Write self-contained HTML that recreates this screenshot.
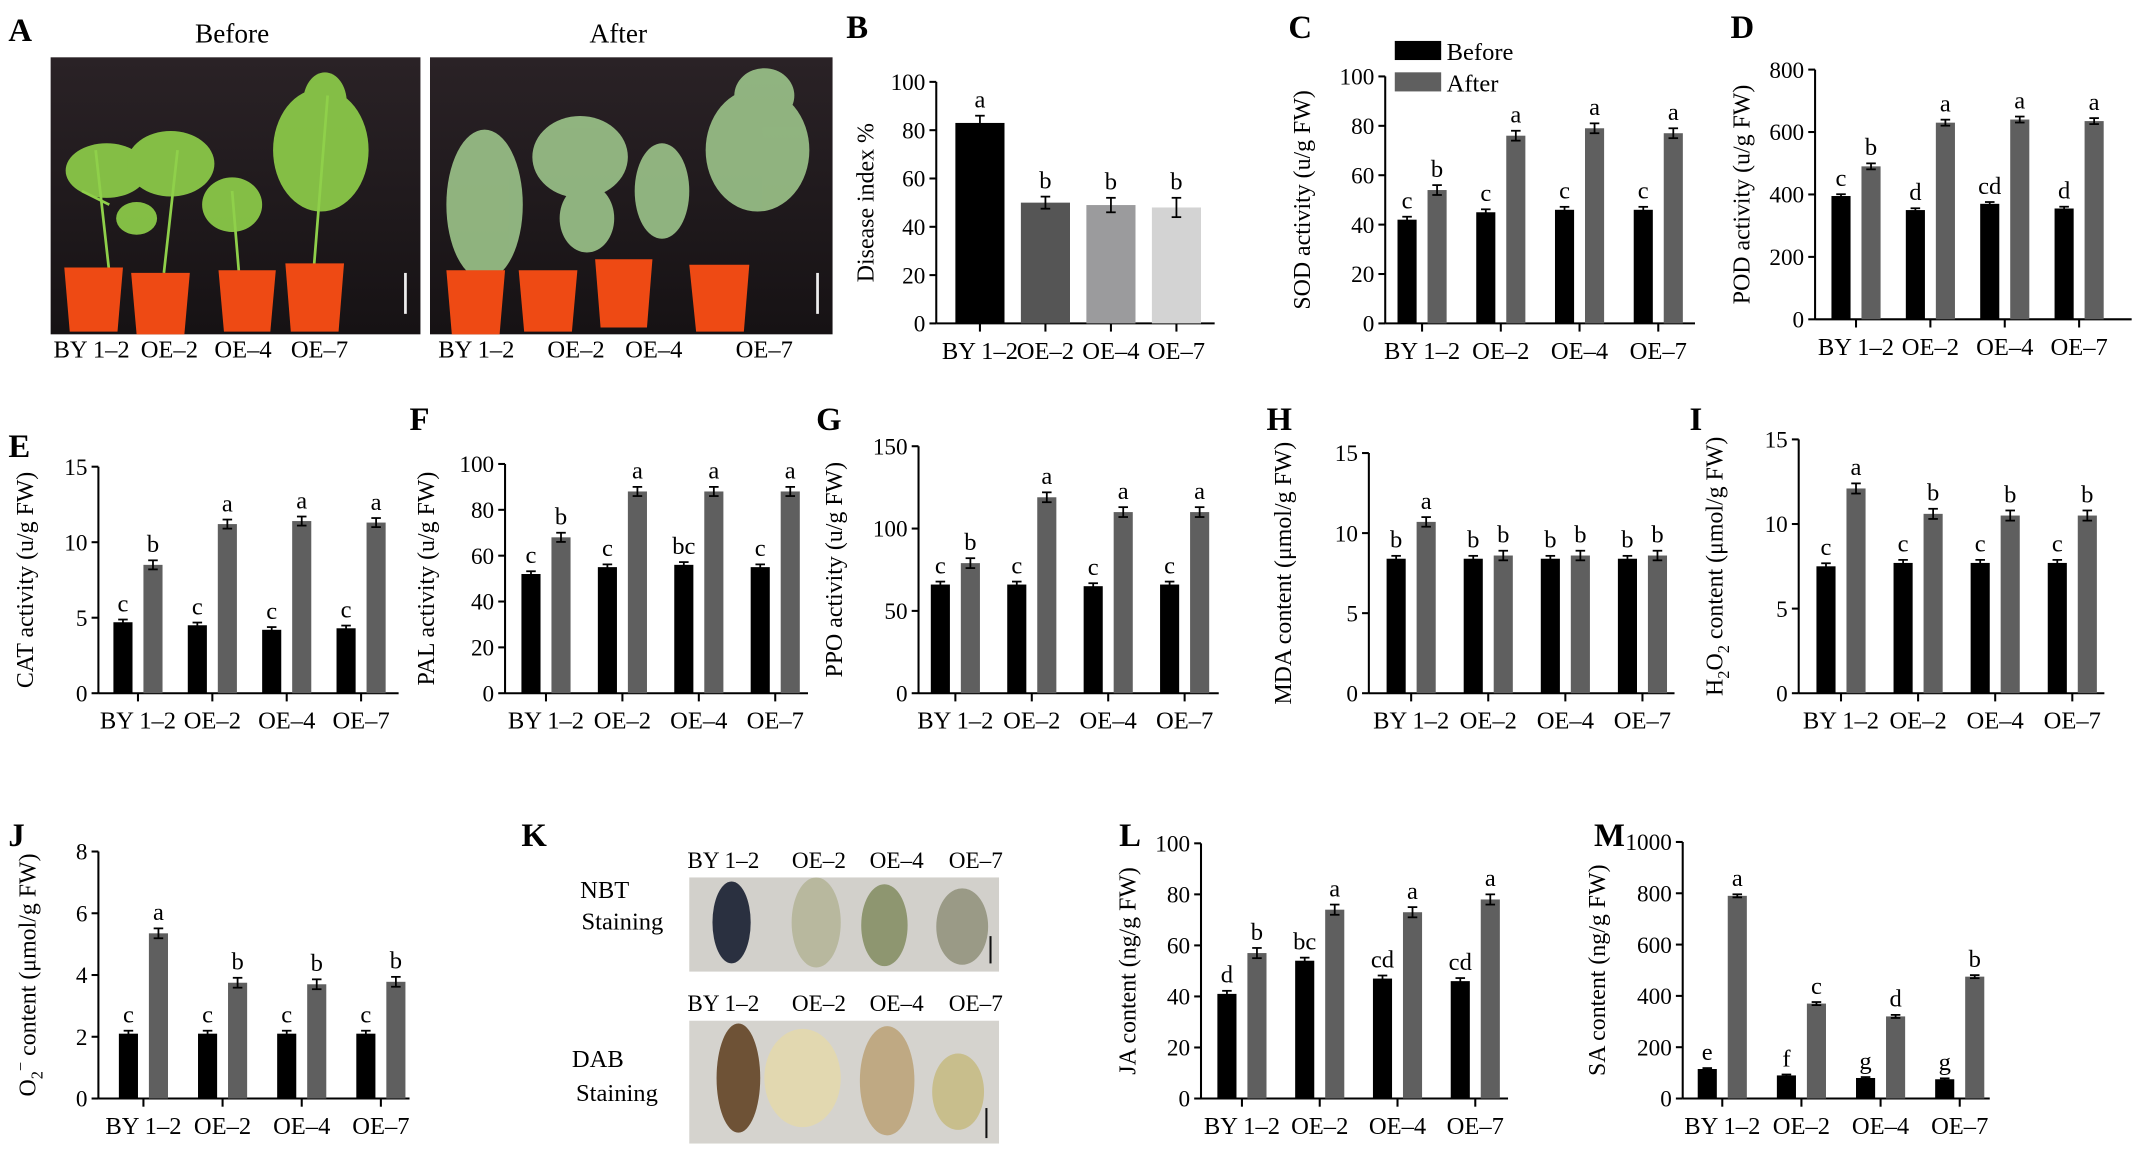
<!DOCTYPE html>
<html><head><meta charset="utf-8">
<style>
html,body{margin:0;padding:0;background:#fff;}
svg{display:block;font-family:"Liberation Serif",serif;}
</style></head>
<body>
<svg id="fig" width="2140" height="1149" viewBox="0 0 1568 842" xmlns="http://www.w3.org/2000/svg">
<defs>
<linearGradient id="bgdark" x1="0" y1="0" x2="0" y2="1"><stop offset="0" stop-color="#2a2226"/><stop offset="1" stop-color="#161214"/></linearGradient>
</defs>
<g>
<text x="6" y="30" font-size="24" font-weight="bold">A</text>
<text x="170" y="31" font-size="20" text-anchor="middle">Before</text>
<text x="453" y="31" font-size="20" text-anchor="middle">After</text>
<g>
<rect x="37" y="42" width="271" height="203" fill="url(#bgdark)"/>
<g stroke="#8fd04a" stroke-width="2" fill="none">
<path d="M80 200 L70 110 M80 150 L60 140 M120 200 L130 110 M175 200 L170 140 M230 195 L240 70"/>
</g>
<g fill="#8fd04a" opacity="0.9">
<ellipse cx="78" cy="125" rx="30" ry="20"/><ellipse cx="125" cy="120" rx="32" ry="24"/><ellipse cx="170" cy="150" rx="22" ry="20"/><ellipse cx="235" cy="110" rx="35" ry="45"/><ellipse cx="238" cy="75" rx="16" ry="22"/><ellipse cx="100" cy="160" rx="15" ry="12"/>
</g>
<g fill="#ee4a14">
<path d="M47 196 h43 l-4 47 h-35z"/><path d="M96 200 h43 l-4 45 h-35z"/><path d="M160 198 h42 l-4 45 h-34z"/><path d="M209 193 h43 l-4 50 h-35z"/>
</g>
<rect x="296" y="200" width="2" height="30" fill="#eee"/>
</g>
<g>
<rect x="315" y="42" width="295" height="203" fill="url(#bgdark)"/>
<g fill="#9cc48a" opacity="0.9">
<ellipse cx="355" cy="150" rx="28" ry="55"/><ellipse cx="425" cy="115" rx="35" ry="30"/><ellipse cx="430" cy="160" rx="20" ry="25"/><ellipse cx="485" cy="140" rx="20" ry="35"/><ellipse cx="555" cy="110" rx="38" ry="45"/><ellipse cx="560" cy="70" rx="22" ry="20"/>
</g>
<g fill="#ee4a14">
<path d="M327 198 h43 l-4 47 h-35z"/><path d="M380 198 h43 l-4 45 h-35z"/><path d="M436 190 h42 l-4 50 h-34z"/><path d="M505 194 h44 l-4 49 h-35z"/>
</g>
<rect x="598" y="200" width="2" height="30" fill="#eee"/>
</g>
<g font-size="18" text-anchor="middle">
<text x="67" y="262">BY 1–2</text><text x="124" y="262">OE–2</text><text x="178" y="262">OE–4</text><text x="234" y="262">OE–7</text>
<text x="349" y="262">BY 1–2</text><text x="422" y="262">OE–2</text><text x="479" y="262">OE–4</text><text x="560" y="262">OE–7</text>
</g>
</g>
<g>
<text x="382" y="620" font-size="24" font-weight="bold">K</text>
<g font-size="17" text-anchor="middle">
<text x="530" y="636">BY 1–2</text><text x="600" y="636">OE–2</text><text x="657" y="636">OE–4</text><text x="715" y="636">OE–7</text>
<text x="530" y="741">BY 1–2</text><text x="600" y="741">OE–2</text><text x="657" y="741">OE–4</text><text x="715" y="741">OE–7</text>
</g>
<g font-size="18" text-anchor="middle">
<text x="443" y="658">NBT</text><text x="456" y="681">Staining</text>
<text x="438" y="782">DAB</text><text x="452" y="807">Staining</text>
</g>
<rect x="505" y="643" width="227" height="69" fill="#d2d0cb"/>
<g>
<ellipse cx="536" cy="676" rx="14" ry="30" fill="#2a3040"/>
<ellipse cx="598" cy="676" rx="18" ry="33" fill="#b8b89e"/>
<ellipse cx="648" cy="678" rx="17" ry="30" fill="#8e9670"/>
<ellipse cx="705" cy="679" rx="19" ry="28" fill="#9a9a86"/>
</g>
<rect x="725" y="686" width="1.5" height="20" fill="#111"/>
<rect x="505" y="748" width="227" height="90" fill="#d5d3ce"/>
<g>
<ellipse cx="541" cy="790" rx="16" ry="40" fill="#6e5236"/>
<ellipse cx="588" cy="790" rx="28" ry="36" fill="#e2d8b0"/>
<ellipse cx="650" cy="792" rx="20" ry="40" fill="#bfa983"/>
<ellipse cx="702" cy="800" rx="19" ry="28" fill="#c8be8c"/>
</g>
<rect x="722" y="812" width="1.5" height="22" fill="#111"/>
</g>
<g id="charts"></g>
</svg>
<script>
// ---- Data ----
const groups = ["BY 1–2","OE–2","OE–4","OE–7"];
const diseaseValues = [83,50,49,48];
const diseaseErr = [3,2.5,3,4];
const diseaseLetters = ["a","b","b","b"];
const sodBefore = [42,45,46,46]; const sodAfter = [54,76,79,77];
const sodLB = ["c","c","c","c"]; const sodLA = ["b","a","a","a"];
const podBefore = [395,350,370,355]; const podAfter = [490,630,640,635];
const podLB = ["c","d","cd","d"]; const podLA = ["b","a","a","a"];
const catBefore = [4.7,4.5,4.2,4.3]; const catAfter = [8.5,11.2,11.4,11.3];
const catLB = ["c","c","c","c"]; const catLA = ["b","a","a","a"];
const palBefore = [52,55,56,55]; const palAfter = [68,88,88,88];
const palLB = ["c","c","bc","c"]; const palLA = ["b","a","a","a"];
const ppoBefore = [66,66,65,66]; const ppoAfter = [79,119,110,110];
const ppoLB = ["c","c","c","c"]; const ppoLA = ["b","a","a","a"];
const mdaBefore = [8.4,8.4,8.4,8.4]; const mdaAfter = [10.7,8.6,8.6,8.6];
const mdaLB = ["b","b","b","b"]; const mdaLA = ["a","b","b","b"];
const h2o2Before = [7.5,7.7,7.7,7.7]; const h2o2After = [12.1,10.6,10.5,10.5];
const h2o2LB = ["c","c","c","c"]; const h2o2LA = ["a","b","b","b"];
const o2Before = [2.1,2.1,2.1,2.1]; const o2After = [5.35,3.75,3.7,3.78];
const o2LB = ["c","c","c","c"]; const o2LA = ["a","b","b","b"];
const jaBefore = [41,54,47,46]; const jaAfter = [57,74,73,78];
const jaLB = ["d","bc","cd","cd"]; const jaLA = ["b","a","a","a"];
const saBefore = [115,90,80,75]; const saAfter = [790,370,320,475];
const saLB = ["e","f","g","g"]; const saLA = ["a","c","d","b"];

const NS = "http://www.w3.org/2000/svg";
const root = document.getElementById("charts");
function mk(tag, attrs, parent){
  const e = document.createElementNS(NS, tag);
  for (const k in attrs) e.setAttribute(k, attrs[k]);
  parent.appendChild(e); return e;
}
function txt(parent, x, y, s, size, anchor){
  const t = mk("text", {x:x, y:y, "font-size":size, "text-anchor":anchor||"middle"}, parent);
  t.textContent = s; return t;
}
function axes(cfg, name){
  const g = mk("g", {}, root);
  
  
  const yS = v => cfg.yBot - (v/cfg.max)*(cfg.yBot-cfg.yTop);
  const L = txt(g, cfg.lx, cfg.ly, cfg.letter, 24, "start");
  L.setAttribute("font-weight","bold");
  
  
  mk("line", {x1:cfg.ax, y1:cfg.yTop, x2:cfg.ax, y2:cfg.yBot, stroke:"#000", "stroke-width":1.5}, g);
  mk("line", {x1:cfg.ax, y1:cfg.yBot, x2:cfg.xEnd, y2:cfg.yBot, stroke:"#000", "stroke-width":1.5}, g);
  cfg.ticks.forEach(v => {
    const y = yS(v);
    mk("line", {x1:cfg.ax-5, y1:y, x2:cfg.ax, y2:y, stroke:"#000", "stroke-width":1.5}, g);
    const t = txt(g, cfg.ax-8, y+6, String(v), 17, "end");
    
    
  });
  groups.forEach((lab,i) => {
    const cx = cfg.c0 + i*cfg.sp;
    mk("line", {x1:cx, y1:cfg.yBot, x2:cx, y2:cfg.yBot+6, stroke:"#000", "stroke-width":1.5}, g);
    const t = txt(g, cx + (cfg.lblOff||0), cfg.yBot+26, lab, 18);
    
    
  });
  const ty = (cfg.yTop+cfg.yBot)/2;
  const tt = mk("text", {x:cfg.tx, y:ty, "font-size":17.5, "text-anchor":"middle", transform:`rotate(-90 ${cfg.tx} ${ty})`}, g);
  tt.innerHTML = cfg.title;
  
  
  return {g, yS};
}
function bar(g, yS, cx, w, v, err, color, letter){
  const r = mk("rect", {x:cx-w/2, y:yS(v), width:w, height:yS(0)-yS(v), fill:color}, g);
  
  
  const e1 = yS(v+err), e2 = yS(Math.max(0,v-err));
  mk("line", {x1:cx, y1:e1, x2:cx, y2:e2, stroke:"#000", "stroke-width":1.3}, g);
  mk("line", {x1:cx-3.5, y1:e1, x2:cx+3.5, y2:e1, stroke:"#000", "stroke-width":1.3}, g);
  mk("line", {x1:cx-3.5, y1:e2, x2:cx+3.5, y2:e2, stroke:"#000", "stroke-width":1.3}, g);
  const t = txt(g, cx, e1-6, letter, 18);
  
  
}
function grouped(cfg, before, after, lb, la, name){
  const {g, yS} = axes(cfg, name);
  const w = 14, off = 11, es = cfg.es || 1;
  const eb = cfg.max*0.012*es, ea = cfg.max*0.02*es;
  groups.forEach((_,i) => {
    const cx = cfg.c0 + i*cfg.sp;
    bar(g, yS, cx-off, w, before[i], eb, "#000", lb[i]);
    bar(g, yS, cx+off, w, after[i], ea, "#5f5f5f", la[i]);
  });
  return g;
}
(function(){
  const cfg = {letter:"B", lx:620, ly:28, ax:686, yTop:60, yBot:237, max:100, ticks:[0,20,40,60,80,100], c0:718, sp:48, xEnd:890, title:"Disease index %", tx:640, lblOff:0};
  const {g, yS} = axes(cfg, "chart-b-disease-index");
  const cols = ["#000","#555","#9b9b9d","#d3d3d3"];
  groups.forEach((_,i) => bar(g, yS, cfg.c0+i*cfg.sp, 36, diseaseValues[i], diseaseErr[i], cols[i], diseaseLetters[i]));
})();
grouped({letter:"C", lx:944, ly:28, ax:1015, yTop:56, yBot:237, max:100, ticks:[0,20,40,60,80,100], c0:1042, sp:57.7, xEnd:1242, title:"SOD activity (u/g FW)", tx:960}, sodBefore, sodAfter, sodLB, sodLA, "chart-c-sod");
(function(){
  const lg = mk("g", {}, root);
  
  
  mk("rect", {x:1022, y:30, width:34, height:14, fill:"#000"}, lg);
  txt(lg, 1060, 44, "Before", 18, "start");
  mk("rect", {x:1022, y:53, width:34, height:14, fill:"#5f5f5f"}, lg);
  txt(lg, 1060, 67, "After", 18, "start");
})();
grouped({letter:"D", lx:1268, ly:28, ax:1330, yTop:51, yBot:234, max:800, ticks:[0,200,400,600,800], c0:1360, sp:54.5, xEnd:1562, title:"POD activity (u/g FW)", tx:1282, es:0.6}, podBefore, podAfter, podLB, podLA, "chart-d-pod");
grouped({letter:"E", lx:6, ly:335, ax:72, yTop:342, yBot:508, max:15, ticks:[0,5,10,15], c0:101, sp:54.5, xEnd:292, title:"CAT activity (u/g FW)", tx:24}, catBefore, catAfter, catLB, catLA, "chart-e-cat");
grouped({letter:"F", lx:300, ly:315, ax:370, yTop:340, yBot:508, max:100, ticks:[0,20,40,60,80,100], c0:400, sp:56, xEnd:592, title:"PAL activity (u/g FW)", tx:318}, palBefore, palAfter, palLB, palLA, "chart-f-pal");
grouped({letter:"G", lx:598, ly:315, ax:673, yTop:327, yBot:508, max:150, ticks:[0,50,100,150], c0:700, sp:56, xEnd:893, title:"PPO activity (u/g FW)", tx:617}, ppoBefore, ppoAfter, ppoLB, ppoLA, "chart-g-ppo");
grouped({letter:"H", lx:928, ly:315, ax:1003, yTop:332, yBot:508, max:15, ticks:[0,5,10,15], c0:1034, sp:56.5, xEnd:1227, title:"MDA content (μmol/g FW)", tx:946}, mdaBefore, mdaAfter, mdaLB, mdaLA, "chart-h-mda");
grouped({letter:"I", lx:1238, ly:315, ax:1318, yTop:322, yBot:508, max:15, ticks:[0,5,10,15], c0:1349, sp:56.5, xEnd:1542, title:"H<tspan dy='5' font-size='12'>2</tspan><tspan dy='-5'>O</tspan><tspan dy='5' font-size='12'>2</tspan><tspan dy='-5'> content (μmol/g FW)</tspan>", tx:1262}, h2o2Before, h2o2After, h2o2LB, h2o2LA, "chart-i-h2o2");
grouped({letter:"J", lx:6, ly:620, ax:72, yTop:624, yBot:805, max:8, ticks:[0,2,4,6,8], c0:105, sp:58, xEnd:300, title:"O<tspan dy='5' font-size='12'>2</tspan><tspan dy='-12' font-size='12'>−</tspan><tspan dy='7'> content (μmol/g FW)</tspan>", tx:26}, o2Before, o2After, o2LB, o2LA, "chart-j-o2");
grouped({letter:"L", lx:820, ly:620, ax:880, yTop:618, yBot:805, max:100, ticks:[0,20,40,60,80,100], c0:910, sp:57, xEnd:1105, title:"JA content (ng/g FW)", tx:832}, jaBefore, jaAfter, jaLB, jaLA, "chart-l-ja");
grouped({letter:"M", lx:1168, ly:620, ax:1233, yTop:617, yBot:805, max:1000, ticks:[0,200,400,600,800,1000], c0:1262, sp:58, xEnd:1458, title:"SA content (ng/g FW)", tx:1176, es:0.3}, saBefore, saAfter, saLB, saLA, "chart-m-sa");
</script>
</body></html>
